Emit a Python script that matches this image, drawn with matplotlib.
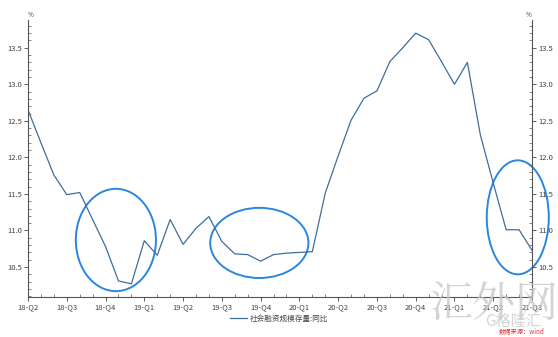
import matplotlib.pyplot as plt
import numpy as np
from matplotlib.patches import Ellipse
from matplotlib.ticker import MultipleLocator

plt.rcParams["font.family"] = ["Noto Sans CJK SC", "DejaVu Sans"]

# monthly yoy growth of total social financing stock, 2018-04 .. 2021-07
tsf_yoy = [
    12.65, 12.20, 11.76, 11.49, 11.52, 11.15, 10.78, 10.31, 10.27, 10.86,
    10.66, 11.15, 10.81, 11.03, 11.19, 10.85, 10.68, 10.67, 10.58, 10.67,
    10.69, 10.70, 10.71, 11.51, 12.02, 12.51, 12.81, 12.91, 13.31, 13.50,
    13.70, 13.61, 13.31, 13.00, 13.30, 12.31, 11.65, 11.01, 11.01, 10.73,
]
quarter_labels = [
    "18-Q2", "18-Q3", "18-Q4", "19-Q1", "19-Q2", "19-Q3", "19-Q4",
    "20-Q1", "20-Q2", "20-Q3", "20-Q4", "21-Q1", "21-Q2", "21-Q3",
]
series_name = "社会融资规模存量:同比"

# highlighted regions: (center month, center value, width months, height)
circles = [(6.8, 10.87, 6.2, 1.40), (17.9, 10.83, 7.6, 0.96), (37.9, 11.18, 4.8, 1.56)]

months = np.arange(len(tsf_yoy))

fig = plt.figure(figsize=(5.58, 3.37), dpi=100)
ax = fig.add_axes([0.0502, 0.1187, 0.9032, 0.822])

line_color = "#3f6e9c"
ax.plot(months, tsf_yoy, color=line_color, lw=0.9, label=series_name)

for cx, cy, w, h in circles:
    ax.add_patch(Ellipse((cx, cy), w, h, fill=False, ec="#2b86e0", lw=1.4, clip_on=False))

ax.set_xlim(0, len(tsf_yoy) - 1)
ax.set_ylim(10.09, 13.88)
ax.set_xticks(np.arange(0, len(tsf_yoy), 3))
ax.set_xticklabels(quarter_labels)
ax.xaxis.set_minor_locator(MultipleLocator(1))
ax.set_yticks([10.5, 11.0, 11.5, 12.0, 12.5, 13.0, 13.5])
ax.yaxis.set_minor_locator(MultipleLocator(0.1))

for s in ["left", "right", "bottom"]:
    ax.spines[s].set_color("#555555")
    ax.spines[s].set_linewidth(0.8)
ax.spines["top"].set_visible(False)

ax.tick_params(axis="both", which="major", labelsize=5.5, colors="#444444",
               length=3, width=0.6, pad=1.5)
ax.tick_params(axis="y", which="both", right=True, labelright=True)
ax.tick_params(axis="both", which="minor", direction="in", length=2, width=0.5,
               colors="#555555")
ax.tick_params(axis="x", which="major", length=3)

ax.text(0.0, 1.005, "%", transform=ax.transAxes, fontsize=4.5, color="#444444",
        ha="left", va="bottom")
ax.text(1.0, 1.005, "%", transform=ax.transAxes, fontsize=4.5, color="#444444",
        ha="right", va="bottom")

fig.legend(loc="center", bbox_to_anchor=(0.5, 0.055), frameon=False, fontsize=5.5,
           handlelength=2.2, handletextpad=0.3, labelcolor="#444444")

# watermarks
fig.text(0.885, 0.095, "汇外网", fontsize=31, color="#c9c9c9", alpha=0.8,
         ha="center", va="center", family=["Noto Serif CJK SC", "Noto Sans CJK SC"])
fig.text(0.92, 0.045, "G格隆汇", fontsize=11, color="#d0d0d0", alpha=0.9,
         ha="center", va="center")
fig.text(0.935, 0.017, "数据来源：wind", fontsize=4.5, color="#e03030",
         style="italic", ha="center", va="center")

fig.savefig("out.png", dpi=100)
